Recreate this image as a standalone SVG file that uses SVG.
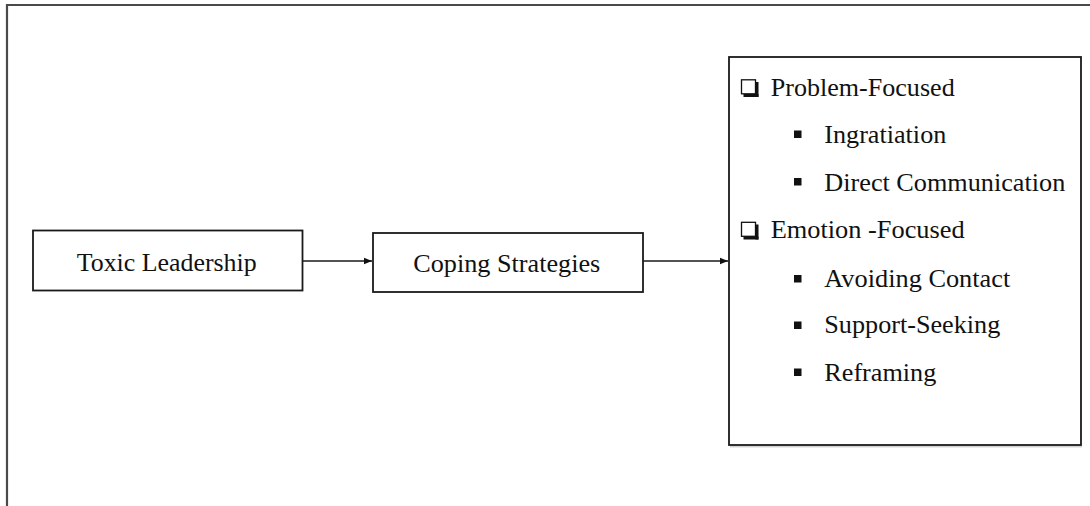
<svg xmlns="http://www.w3.org/2000/svg" width="1090" height="506" viewBox="0 0 1090 506">
<style>
  .box { fill: #ffffff; stroke: #1a1a1a; stroke-width: 1.8; }
  .t { font-family: "Liberation Serif", "Times New Roman", serif; font-size: 25px; fill: #111; }
  .conn { stroke: #1a1a1a; stroke-width: 1.4; fill: none; }
  .frame { stroke: #4a4a4a; stroke-width: 2.2; fill: none; }
  .sq { fill: #111; }
</style>
<defs>
  <marker id="arrow" markerWidth="9" markerHeight="8" refX="8.5" refY="4" orient="auto" markerUnits="userSpaceOnUse">
    <path d="M0,0.5 L8.5,4 L0,7.5 Z" fill="#111"/>
  </marker>
</defs>
<rect width="1090" height="506" fill="#ffffff"/>
<path class="frame" d="M7,506 L7,5 L1090,5"/>

<g id="connectors">
  <line class="conn" x1="302" y1="261" x2="372" y2="261" marker-end="url(#arrow)"/>
  <line class="conn" x1="643" y1="261" x2="728" y2="261" marker-end="url(#arrow)"/>
</g>

<g id="toxic-leadership">
  <rect class="box" x="33" y="230.5" width="269.5" height="60"/>
  <text class="t" x="76.7" y="271" textLength="180" lengthAdjust="spacingAndGlyphs">Toxic Leadership</text>
</g>

<g id="coping-strategies">
  <rect class="box" x="373" y="233" width="270" height="59"/>
  <text class="t" x="413.3" y="272" textLength="187" lengthAdjust="spacingAndGlyphs">Coping Strategies</text>
</g>

<g id="strategies-list">
  <line x1="730" y1="446.8" x2="1082" y2="446.8" stroke="#bbb" stroke-width="1"/>
  <rect class="box" x="729" y="57" width="352" height="388"/>
  <g>
    <rect x="741.5" y="79.8" width="14" height="14" fill="none" stroke="#111" stroke-width="1.3"/>
    <rect class="sq" x="755.5" y="82" width="3" height="15"/>
    <rect class="sq" x="743.5" y="94" width="15" height="3"/>
  </g>
  <text class="t" x="770.7" y="95.7" textLength="184" lengthAdjust="spacingAndGlyphs">Problem-Focused</text>
  <rect class="sq" x="794" y="130.5" width="7.5" height="7.5"/>
  <text class="t" x="824.3" y="143.2" textLength="122" lengthAdjust="spacingAndGlyphs">Ingratiation</text>
  <rect class="sq" x="794" y="178" width="7.5" height="7.5"/>
  <text class="t" x="824.3" y="190.7" textLength="241" lengthAdjust="spacingAndGlyphs">Direct Communication</text>
  <g>
    <rect x="741.5" y="222.3" width="14" height="14" fill="none" stroke="#111" stroke-width="1.3"/>
    <rect class="sq" x="755.5" y="224.5" width="3" height="15"/>
    <rect class="sq" x="743.5" y="236.5" width="15" height="3"/>
  </g>
  <text class="t" x="770.7" y="238.3" textLength="194" lengthAdjust="spacingAndGlyphs">Emotion -Focused</text>
  <rect class="sq" x="794" y="275" width="7.5" height="7.5"/>
  <text class="t" x="824.3" y="286.5" textLength="186" lengthAdjust="spacingAndGlyphs">Avoiding Contact</text>
  <rect class="sq" x="794" y="321.5" width="7.5" height="7.5"/>
  <text class="t" x="824.3" y="333.3" textLength="176" lengthAdjust="spacingAndGlyphs">Support-Seeking</text>
  <rect class="sq" x="794" y="368.5" width="7.5" height="7.5"/>
  <text class="t" x="824.3" y="380.5" textLength="112" lengthAdjust="spacingAndGlyphs">Reframing</text>
</g>
</svg>
